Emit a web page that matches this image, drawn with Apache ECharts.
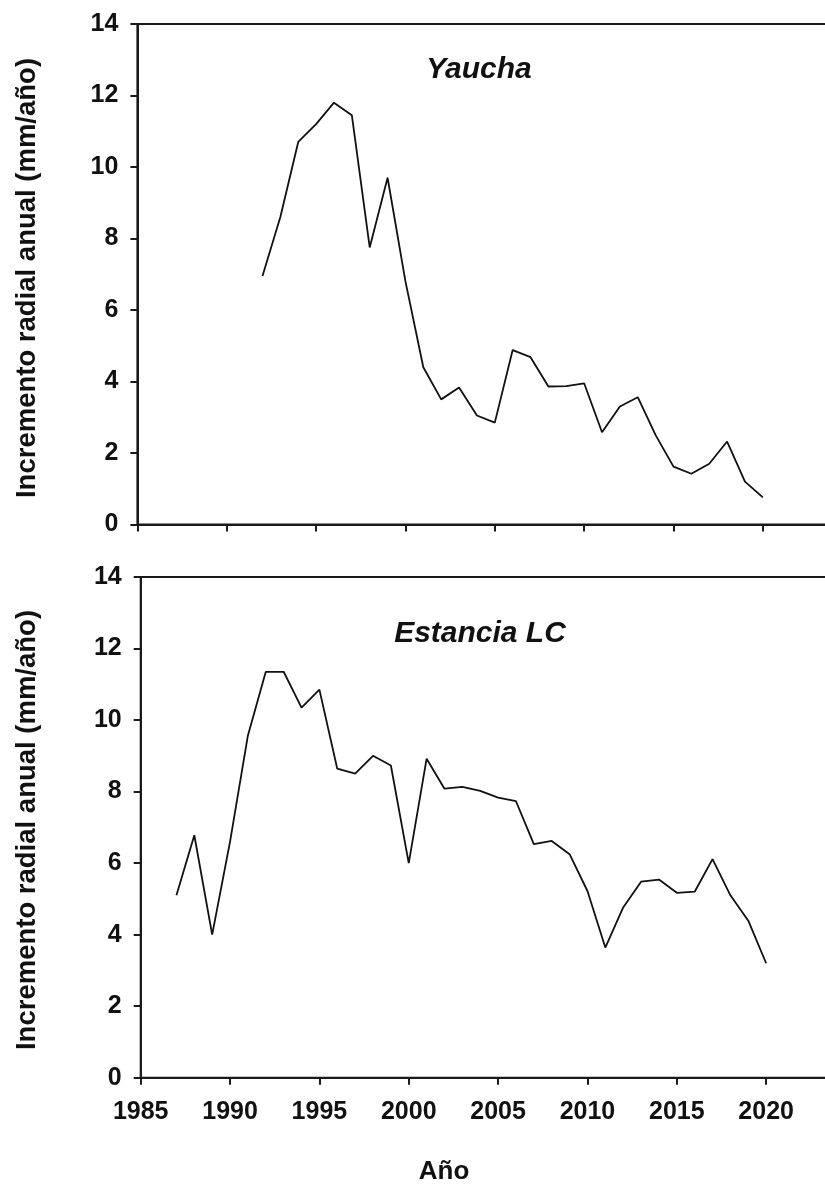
<!DOCTYPE html>
<html>
<head>
<meta charset="utf-8">
<script src="https://cdn.jsdelivr.net/npm/echarts@6/dist/echarts.min.js"></script>
<style>
html,body{margin:0;padding:0;background:#fff;}
#chart{width:825px;height:1187px;}
</style>
</head>
<body>
<div id="chart"></div>
<script>
// Yaucha (top panel)
var yearsYaucha = [1992,1993,1994,1995,1996,1997,1998,1999,2000,2001,2002,2003,2004,2005,2006,2007,2008,2009,2010,2011,2012,2013,2014,2015,2016,2017,2018,2019,2020];
var valuesYaucha = [6.95,8.6,10.7,11.2,11.8,11.45,7.75,9.7,6.8,4.4,3.5,3.83,3.05,2.85,4.88,4.68,3.86,3.87,3.95,2.58,3.3,3.56,2.5,1.62,1.42,1.7,2.32,1.2,0.76];
// Estancia LC (bottom panel)
var yearsEstancia = [1987,1988,1989,1990,1991,1992,1993,1994,1995,1996,1997,1998,1999,2000,2001,2002,2003,2004,2005,2006,2007,2008,2009,2010,2011,2012,2013,2014,2015,2016,2017,2018,2019,2020];
var valuesEstancia = [5.1,6.78,4.0,6.6,9.57,11.35,11.35,10.35,10.85,8.64,8.5,9.0,8.73,6.0,8.92,8.08,8.13,8.02,7.83,7.73,6.53,6.62,6.25,5.22,3.64,4.76,5.48,5.54,5.17,5.2,6.11,5.1,4.39,3.2];
var panelTitles = ['Yaucha','Estancia LC'];
var yAxisTitle = 'Incremento radial anual (mm/año)';
var xAxisTitle = 'Año';
var xMin = 1985, xMax = 2025, xStep = 5;
var yMin = 0, yMax = 14, yStep = 2;

function pairs(xs, ys){ return xs.map(function(x,i){ return [x, ys[i]]; }); }

var FONT = '"Liberation Sans", Arial, sans-serif';
var AX = '#1a1a1a';

function makeX(gridIndex, showLabels){
  return {
    type:'value', gridIndex:gridIndex, min:xMin, max:xMax, interval:xStep,
    axisLine:{show:true, onZero:false, lineStyle:{color:AX, width:2}},
    axisTick:{show:true, inside:false, length:7, lineStyle:{color:AX, width:2}},
    axisLabel:{show:showLabels, margin:22, color:'#111', fontFamily:FONT, fontWeight:'bold', fontSize:25,
      formatter:function(v){ return String(v); }},
    splitLine:{show:false}
  };
}
function makeY(gridIndex){
  return {
    type:'value', gridIndex:gridIndex, min:yMin, max:yMax, interval:yStep,
    axisLine:{show:true, lineStyle:{color:AX, width:2}},
    axisTick:{show:true, inside:false, length:7, lineStyle:{color:AX, width:2}},
    axisLabel:{show:true, margin:19, color:'#111', fontFamily:FONT, fontWeight:'bold', fontSize:25},
    splitLine:{show:false}
  };
}

var chart = echarts.init(document.getElementById('chart'), null, {renderer:'canvas'});
chart.setOption({
  backgroundColor:'#fff',
  animation:false,
  grid:[
    {left:137.4, top:24, width:714.8, height:500.5, containLabel:false, outerBoundsMode:'none', show:true, borderColor:AX, borderWidth:2, backgroundColor:'transparent'},
    {left:140.7, top:577, width:714.8, height:500.7, containLabel:false, outerBoundsMode:'none', show:true, borderColor:AX, borderWidth:2, backgroundColor:'transparent'}
  ],
  xAxis:[ makeX(0,false), makeX(1,true) ],
  yAxis:[ makeY(0), makeY(1) ],
  series:[
    {type:'line', xAxisIndex:0, yAxisIndex:0, data:pairs(yearsYaucha, valuesYaucha), showSymbol:false, symbol:'none',
      lineStyle:{color:'#111', width:1.8}},
    {type:'line', xAxisIndex:1, yAxisIndex:1, data:pairs(yearsEstancia, valuesEstancia), showSymbol:false, symbol:'none',
      lineStyle:{color:'#111', width:1.8}}
  ],
  graphic:[
    {type:'text', x:479, y:70, style:{text:panelTitles[0], font:'italic bold 30px ' + FONT, fill:'#111', textAlign:'center', textVerticalAlign:'middle'}},
    {type:'text', x:480, y:634, style:{text:panelTitles[1], font:'italic bold 30px ' + FONT, fill:'#111', textAlign:'center', textVerticalAlign:'middle'}},
    {type:'text', x:27, y:278, rotation:Math.PI/2, style:{text:yAxisTitle, font:'bold 27.5px ' + FONT, fill:'#111', textAlign:'center', textVerticalAlign:'middle'}},
    {type:'text', x:27, y:830, rotation:Math.PI/2, style:{text:yAxisTitle, font:'bold 27.5px ' + FONT, fill:'#111', textAlign:'center', textVerticalAlign:'middle'}},
    {type:'text', x:444, y:1172, style:{text:xAxisTitle, font:'bold 26px ' + FONT, fill:'#111', textAlign:'center', textVerticalAlign:'middle'}}
  ]
});
</script>
</body>
</html>
